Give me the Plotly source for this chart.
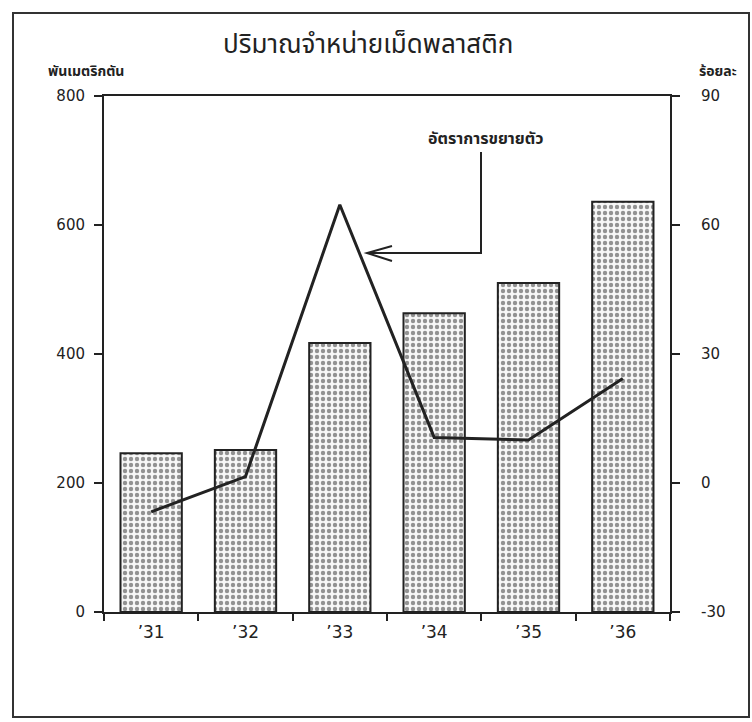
import plotly.graph_objects as go

# ---- data ----
years = ["’31", "’32", "’33", "’34", "’35", "’36"]
volume = [246, 251, 417, 463, 510, 636]          # thousand metric tons (left axis)
growth = [-6.7, 1.5, 64.7, 10.6, 10.0, 24.3]     # percent (right axis)
left_ticks = [0, 200, 400, 600, 800]
right_ticks = [-30, 0, 30, 60, 90]
right_ticktext = ["-30", "0", "30", "60", "90"]

title_text = "ปริมาณจำหน่ายเม็ดพลาสติก"
left_title = "พันเมตริกตัน"
right_title = "ร้อยละ"
line_label = "อัตราการขยายตัว"

# ---- layout geometry (pixels) ----
W, H = 752, 722
L, R, T, B = 104, 670, 96, 612
FONT = "Noto Sans Thai, Loma, Garuda, Tlwg Typo, Norasi, Liberation Sans, DejaVu Sans, sans-serif"
INK = "#222222"


def px(x):
    return (x - L) / (R - L)


def py(y):
    return (B - y) / (B - T)


fig = go.Figure()
fig.add_trace(go.Bar(
    x=years, y=volume, yaxis="y",
    marker=dict(color="#f6f6f6",
                line=dict(color=INK, width=2),
                pattern=dict(shape=".", fgcolor="#2e2e2e", bgcolor="#f7f7f7",
                             size=6, solidity=0.42)),
    showlegend=False,
))
fig.add_trace(go.Scatter(
    x=years, y=growth, yaxis="y2", mode="lines",
    line=dict(color=INK, width=3),
    showlegend=False,
))

shapes = [
    # outer border of the figure
    dict(type="rect", xref="paper", yref="paper",
         x0=px(13), x1=px(749), y0=py(717), y1=py(13),
         line=dict(color="#333333", width=2)),
    # elbow connector of the label
    dict(type="path", xref="paper", yref="paper",
         path=f"M {px(481)},{py(152)} L {px(481)},{py(253)} L {px(367)},{py(253)}",
         line=dict(color=INK, width=2)),
    # open arrowhead
    dict(type="path", xref="paper", yref="paper",
         path=f"M {px(392)},{py(246)} L {px(367)},{py(253)} L {px(392)},{py(261)}",
         line=dict(color=INK, width=2)),
]


def label(text, x, y, size, bold=False):
    return dict(text=f"<b>{text}</b>" if bold else text,
                xref="paper", yref="paper", x=px(x), y=py(y),
                xanchor="center", yanchor="middle", showarrow=False,
                font=dict(family=FONT, size=size, color=INK))


annotations = [
    label(title_text, 368, 45, 26),
    label(left_title, 86, 72, 14, bold=True),
    label(right_title, 718, 72, 14, bold=True),
    label(line_label, 485, 139, 16, bold=True),
]

fig.update_layout(
    width=W, height=H,
    margin=dict(l=L, r=W - R, t=T, b=H - B, pad=0),
    paper_bgcolor="white", plot_bgcolor="white",
    bargap=0.35,
    font=dict(family=FONT, color=INK),
    xaxis=dict(type="category", range=[-0.5, 5.5],
               showline=True, linecolor=INK, linewidth=2, mirror=True,
               ticks="outside", tickson="boundaries", ticklen=7, tickwidth=2,
               tickcolor=INK, showgrid=False, zeroline=False,
               tickfont=dict(family="DejaVu Sans", size=17, color=INK),
               ticklabelstandoff=4),
    yaxis=dict(range=[0, 800], tickvals=left_ticks,
               showline=True, linecolor=INK, linewidth=2,
               ticks="outside", ticklen=8, tickwidth=2, tickcolor=INK,
               showgrid=False, zeroline=False, ticklabelstandoff=6,
               tickfont=dict(family="DejaVu Sans", size=15, color=INK)),
    yaxis2=dict(range=[-30, 90], tickvals=right_ticks, ticktext=right_ticktext,
                overlaying="y", side="right",
                showline=True, linecolor=INK, linewidth=2,
                ticks="outside", ticklen=8, tickwidth=2, tickcolor=INK,
                showgrid=False, zeroline=False, ticklabelstandoff=18,
                tickfont=dict(family="DejaVu Sans", size=15, color=INK)),
    shapes=shapes,
    annotations=annotations,
)

fig.write_html("out.html")
